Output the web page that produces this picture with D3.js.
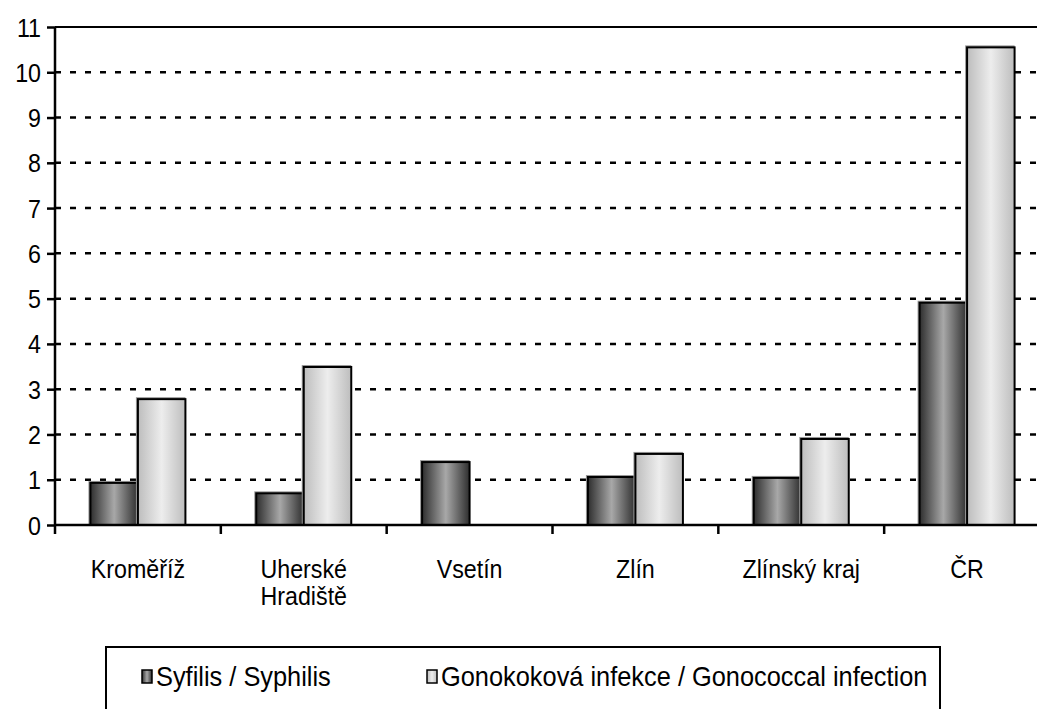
<!DOCTYPE html>
<html><head><meta charset="utf-8">
<script src="https://cdn.jsdelivr.net/npm/d3@7/dist/d3.min.js"></script>
<style>
body{margin:0;background:#fff;}
svg{display:block;font-family:"Liberation Sans",Arial,sans-serif;}
</style></head>
<body>
<svg id="chart" width="1037" height="709"></svg>
<script>
const categories = [["Kroměříž"], ["Uherské", "Hradiště"], ["Vsetín"], ["Zlín"], ["Zlínský kraj"], ["ČR"]];
const seriesNames = ["Syfilis / Syphilis", "Gonokoková infekce / Gonococcal infection"];
const syphilis = [0.93, 0.70, 1.39, 1.06, 1.04, 4.91];
const gonorrhea = [2.78, 3.49, 0, 1.57, 1.90, 10.55];
const yTicks = [0,1,2,3,4,5,6,7,8,9,10,11];

(function(){
const svg = d3.select("#chart");
const mL = 55, mT = 27, mB = 525, mR = 1050;
const SX = 0.93, FS = 25, LFS = 27, LSX = 0.94;
const catKeys = categories.map(c => c.join(" "));

const defs = svg.append("defs");
function grad(id, edge, mid){
  const g = defs.append("linearGradient").attr("id", id).attr("x1","0%").attr("x2","100%").attr("y1","0%").attr("y2","0%");
  g.append("stop").attr("offset","0%").attr("stop-color",edge);
  g.append("stop").attr("offset","50%").attr("stop-color",mid);
  g.append("stop").attr("offset","100%").attr("stop-color",edge);
}
grad("gS", "#2e2e2e", "#a8a8a8");
grad("gG", "#bdbdbd", "#ededed");
const fills = ["url(#gS)", "url(#gG)"];

const x = d3.scaleBand().domain(catKeys).range([mL, mR]).paddingInner(0).paddingOuter(0);
const groupW = 95;
const x1 = d3.scaleBand().domain(seriesNames).range([0, groupW]);
const y = d3.scaleLinear().domain([0, 11]).range([mB, mT]);

// gridlines
svg.append("g").selectAll("line").data(yTicks.filter(t => t > 0 && t < 11)).join("line")
  .attr("x1", mL).attr("x2", 1037).attr("y1", d => y(d)).attr("y2", d => y(d))
  .attr("stroke", "#000").attr("stroke-width", 2.5).attr("stroke-dasharray", "6,9");
svg.append("line").attr("x1", mL).attr("x2", 1037).attr("y1", y(11)).attr("y2", y(11))
  .attr("stroke", "#000").attr("stroke-width", 2);

// bars
const data = [];
catKeys.forEach((c, i) => {
  data.push({c, s: seriesNames[0], v: syphilis[i], f: fills[0]});
  data.push({c, s: seriesNames[1], v: gonorrhea[i], f: fills[1]});
});
const off = (x.bandwidth() - groupW) / 2;
const bars = svg.append("g").selectAll("g").data(data.filter(d => d.v > 0)).join("g");
bars.append("rect")
  .attr("x", d => x(d.c) + off + x1(d.s) - 1).attr("y", d => y(d.v) - 1)
  .attr("width", x1.bandwidth()).attr("height", d => mB - y(d.v))
  .attr("fill", "none").attr("stroke", "#999").attr("stroke-width", 2);
bars.append("rect")
  .attr("x", d => x(d.c) + off + x1(d.s)).attr("y", d => y(d.v))
  .attr("width", x1.bandwidth()).attr("height", d => mB - y(d.v))
  .attr("fill", d => d.f).attr("stroke", "#000").attr("stroke-width", 2);

// y axis
const yAxis = svg.append("g").attr("transform", `translate(${mL},0)`)
  .call(d3.axisLeft(y).tickValues(yTicks).tickSize(8).tickPadding(6).tickFormat(d3.format("d")));
yAxis.select(".domain").attr("stroke-width", 2.5).attr("d", `M0,${mT}V${mB+9}`);
yAxis.selectAll(".tick line").attr("stroke-width", 2.5);
yAxis.selectAll(".tick text").attr("font-size", FS).attr("fill", "#000").attr("font-family", "inherit")
  .attr("x", null).attr("dy", null)
  .attr("transform", `translate(-14,9) scale(${SX},1)`);

// x axis
const xAxis = svg.append("g").attr("transform", `translate(0,${mB})`);
xAxis.append("line").attr("x1", mL).attr("x2", 1037).attr("y1", 0).attr("y2", 0)
  .attr("stroke", "#000").attr("stroke-width", 2.5);
xAxis.selectAll(".tk").data(catKeys.slice(1)).join("line").attr("class", "tk")
  .attr("x1", d => x(d)).attr("x2", d => x(d)).attr("y1", 0).attr("y2", 9)
  .attr("stroke", "#000").attr("stroke-width", 2.5);
const lbl = xAxis.selectAll(".lb").data(categories).join("text").attr("class", "lb")
  .attr("transform", (d, i) => `translate(${x(catKeys[i]) + x.bandwidth() / 2},53) scale(${SX},1)`)
  .attr("text-anchor", "middle").attr("font-size", FS).attr("fill", "#000");
lbl.selectAll("tspan").data(d => d).join("tspan")
  .attr("x", 0).attr("dy", (d, i) => i === 0 ? 0 : 27).text(d => d);

// legend
const lg = svg.append("g");
lg.append("rect").attr("x", 106).attr("y", 647).attr("width", 834).attr("height", 80)
  .attr("fill", "#fff").attr("stroke", "#000").attr("stroke-width", 2);
const legX = [142, 427];
seriesNames.forEach((s, i) => {
  lg.append("rect").attr("x", legX[i]).attr("y", 670).attr("width", 10).attr("height", 13)
    .attr("fill", fills[i]).attr("stroke", "#000").attr("stroke-width", 1.5);
  lg.append("text").attr("transform", `translate(${legX[i] + 14},686) scale(${LSX},1)`)
    .attr("font-size", LFS).attr("fill", "#000").text(s);
});
})();
</script>
</body></html>
